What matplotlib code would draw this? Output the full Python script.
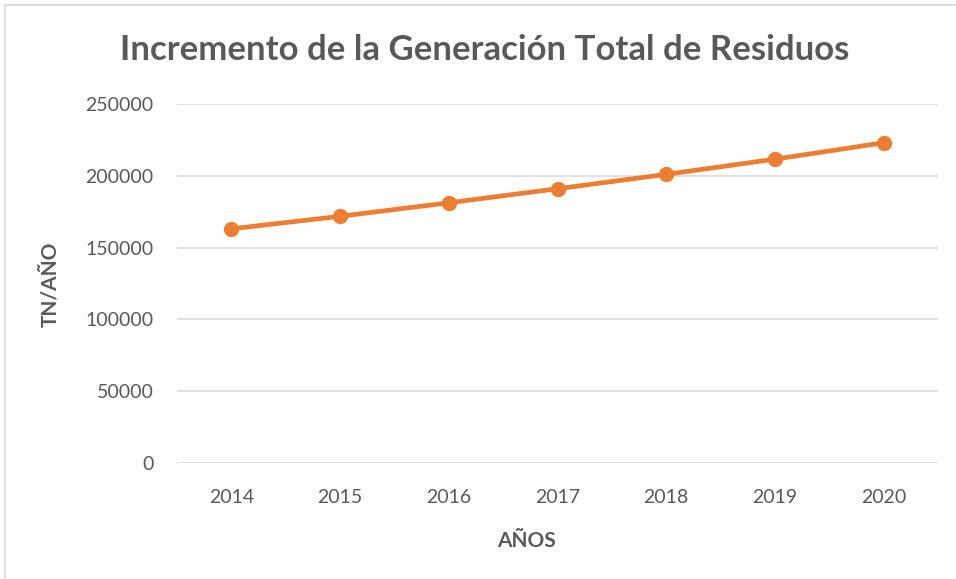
import matplotlib
matplotlib.use("Agg")
import matplotlib.pyplot as plt
from matplotlib.patches import Rectangle

years = ["2014", "2015", "2016", "2017", "2018", "2019", "2020"]
values = [163100, 171800, 181200, 191000, 201000, 211600, 223000]
yticks = [0, 50000, 100000, 150000, 200000, 250000]

plt.rcParams['font.family'] = ['Lato', 'DejaVu Sans']
gray = "#595959"

fig = plt.figure(figsize=(9.56, 5.79), dpi=100)
W, H = 956, 579
ax = fig.add_axes([177 / W, 1 - 463 / H, (938 - 177) / W, (463 - 104) / H])

x = list(range(len(years)))
ax.plot(x, values, color="#ED7D31", lw=3.4, marker="o", markersize=10, zorder=3)

ax.set_xlim(-0.5, len(years) - 0.5)
ax.set_ylim(0, 250000)
ax.set_yticks(yticks)
ax.set_yticklabels([str(v) for v in yticks])
ax.set_xticks(x)
ax.set_xticklabels(years)
ax.grid(axis="y", color="#D9D9D9", lw=1.2)
ax.set_axisbelow(True)
for s in ax.spines.values():
    s.set_visible(False)
ax.tick_params(length=0, labelsize=14, colors=gray)
ax.tick_params(axis="x", pad=19)
ax.tick_params(axis="y", pad=17)

fig.text(526 / W, 1 - 541 / H, "AÑOS", ha="center", va="center",
         fontsize=15, fontweight="bold", color=gray)
fig.text(50 / W, 1 - 284 / H, "TN/AÑO", ha="center", va="center", rotation=90,
         fontsize=15, fontweight="bold", color=gray)

fig.text(485 / W, 1 - 50 / H, "Incremento de la Generación Total de Residuos",
         ha="center", va="center", fontsize=25, fontweight="bold", color=gray)

fig.patches.append(Rectangle((5 / W, -0.1), 1.2, 1 - 5 / H + 0.1, transform=fig.transFigure,
                             fill=False, edgecolor="#D9D9D9", lw=1.2))

fig.savefig("out.png", dpi=100)
